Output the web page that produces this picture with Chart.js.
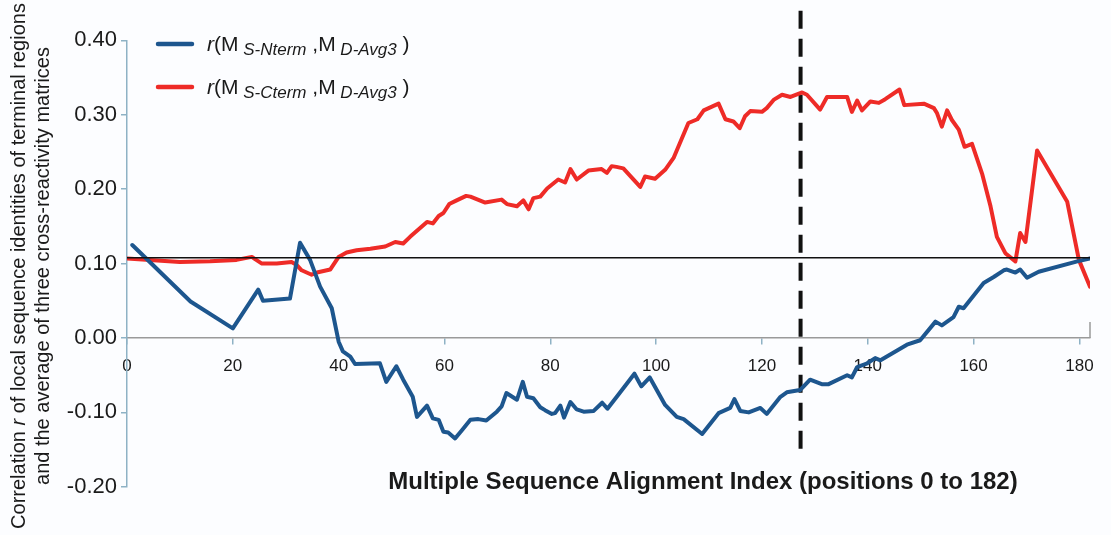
<!DOCTYPE html>
<html>
<head>
<meta charset="utf-8">
<script src="https://cdn.jsdelivr.net/npm/chart.js@4.4.1/dist/chart.umd.min.js"></script>
<style>
  html, body { margin: 0; padding: 0; background: #fcfdff; }
  #wrap { width: 1111px; height: 535px; position: relative; }
</style>
</head>
<body>
<div id="wrap"><canvas id="corrChart"></canvas></div>
<script>
// --- data ---
const POS_NTERM = [1, 12, 20, 24.8, 25.7, 30.8, 32.7, 34.6, 36.5, 38.7, 40, 40.8, 42.2, 43.1, 47.8, 49, 50.9, 52.2, 54, 54.8,
  56.7, 57.8, 58.9, 59.8, 60.7, 62, 63.3, 64.9, 66.4, 67.9, 69.9, 70.8, 71.7, 73.7, 74.8, 75.6, 76.8, 78.1, 79, 80.3,
  80.9, 81.9, 82.6, 83.8, 85, 86.3, 88.2, 89.8, 90.8, 93, 95.9, 97.2, 98.8, 101.7, 103.9, 105.2, 108.7, 111.8, 114, 114.8,
  115.9, 117.5, 119.7, 120.9, 123.5, 124.7, 127.2, 129.1, 131.3, 132.6, 136.1, 137, 138, 139.9, 141.4, 142.4, 147.4, 149.9, 152.8, 154,
  156.2, 157.2, 158.1, 161.9, 163.8, 165.7, 166.3, 167.9, 168.8, 170.1, 172.3, 179.6, 182];
const R_NTERM = [0.125, 0.049, 0.013, 0.065, 0.050, 0.053, 0.128, 0.105, 0.069, 0.040, -0.005, -0.018, -0.025, -0.035, -0.034, -0.059, -0.038, -0.056, -0.079, -0.106,
  -0.091, -0.108, -0.110, -0.126, -0.127, -0.135, -0.124, -0.110, -0.109, -0.111, -0.099, -0.092, -0.074, -0.083, -0.059, -0.079, -0.081, -0.093, -0.097, -0.102,
  -0.101, -0.091, -0.107, -0.086, -0.096, -0.099, -0.098, -0.087, -0.095, -0.075, -0.048, -0.065, -0.053, -0.090, -0.106, -0.109, -0.129, -0.101, -0.094, -0.082,
  -0.098, -0.100, -0.094, -0.102, -0.079, -0.073, -0.070, -0.056, -0.062, -0.062, -0.050, -0.053, -0.039, -0.034, -0.027, -0.030, -0.009, -0.003, 0.022, 0.017,
  0.028, 0.042, 0.040, 0.074, 0.082, 0.091, 0.092, 0.088, 0.092, 0.081, 0.089, 0.103, 0.107];

const POS_CTERM = [0, 4.3, 10, 15.7, 20.7, 23.6, 24.2, 25.5, 28.3, 31.1, 32.1, 33, 34.9, 35.9, 38.4, 40, 41.5, 43.4, 46, 48.8,
  50.7, 52.2, 53.5, 56.7, 57.8, 58.9, 59.8, 60.9, 62.3, 64.1, 64.9, 67.7, 70.8, 71.8, 73.7, 74.9, 75.9, 76.8, 78.1, 79.4,
  81.5, 82.8, 83.8, 85, 87.2, 89.7, 90.7, 91.6, 92.5, 93.8, 97, 97.9, 99.8, 101.7, 103.3, 106.1, 107.8, 109, 111.8, 113.1,
  114.6, 115.8, 116.8, 117.8, 120, 120.9, 122.2, 123.8, 125.4, 127.6, 128.5, 131, 132.3, 136.1, 137, 138, 138.9, 140.5, 142.1, 143.3,
  146, 146.9, 150.6, 152.5, 153.1, 154, 155, 155.9, 157.2, 158.3, 159.7, 161.6, 163.2, 164.4, 166, 167.9, 168.8, 169.8, 172, 177.7,
  179.9, 182];
const R_CTERM = [0.107, 0.105, 0.102, 0.103, 0.105, 0.109, 0.106, 0.100, 0.100, 0.102, 0.098, 0.091, 0.085, 0.088, 0.092, 0.109, 0.115, 0.118, 0.120, 0.123,
  0.129, 0.127, 0.136, 0.156, 0.154, 0.164, 0.168, 0.180, 0.185, 0.191, 0.190, 0.182, 0.186, 0.180, 0.177, 0.185, 0.173, 0.188, 0.190, 0.201,
  0.213, 0.209, 0.227, 0.213, 0.225, 0.227, 0.222, 0.231, 0.230, 0.228, 0.203, 0.217, 0.214, 0.226, 0.242, 0.289, 0.294, 0.306, 0.315, 0.294,
  0.291, 0.282, 0.298, 0.305, 0.304, 0.309, 0.320, 0.327, 0.324, 0.330, 0.327, 0.307, 0.324, 0.324, 0.304, 0.319, 0.306, 0.318, 0.316, 0.321,
  0.334, 0.313, 0.315, 0.309, 0.302, 0.284, 0.306, 0.293, 0.280, 0.257, 0.261, 0.221, 0.177, 0.136, 0.114, 0.103, 0.141, 0.129, 0.252, 0.183,
  0.105, 0.069];

const REF_R = 0.108;          // horizontal reference line
const MARK_POS = 127.3;       // dashed vertical marker
const MARK_SPAN = [0.44, -0.153];

const X_TICKS = [0, 20, 40, 60, 80, 100, 120, 140, 160, 180];
const Y_TICKS = [-0.20, -0.10, 0.00, 0.10, 0.20, 0.30, 0.40];
const X_END = 182;

const BLUE = '#1d568e';
const RED = '#ee2b27';
const AXIS = '#8eb2c5';
const FONT = "'Liberation Sans', Arial, Helvetica, sans-serif";

function toPoints(xs, ys) {
    return xs.map((x, i) => ({ x: x, y: ys[i] }));
}

// draws a list of text runs (different fonts / offsets) one after the other
function drawRuns(ctx, runs, x, y, align) {
    let total = 0;
    runs.forEach(r => { ctx.font = r.font; total += ctx.measureText(r.text).width; });
    let cx = align === 'center' ? x - total / 2 : x;
    runs.forEach(r => {
        ctx.font = r.font;
        ctx.fillText(r.text, cx, y + (r.dy || 0));
        cx += ctx.measureText(r.text).width;
    });
}

const decorPlugin = {
    id: 'decor',
    afterDraw(chart) {
        const ctx = chart.ctx;
        const xs = chart.scales.x, ys = chart.scales.y;
        ctx.save();
        ctx.fillStyle = '#1a1a1a';
        ctx.textBaseline = 'alphabetic';

        // end cap of the x axis
        const ex = xs.getPixelForValue(X_END), ey = ys.getPixelForValue(0);
        ctx.strokeStyle = '#9a9a9a';
        ctx.lineWidth = 1.5;
        ctx.beginPath();
        ctx.moveTo(ex, ey);
        ctx.lineTo(ex, ey - 16);
        ctx.stroke();

        // legend
        const main = `21px ${FONT}`, it = `italic 21px ${FONT}`, sub = `italic 17px ${FONT}`;
        const items = [
            { color: BLUE, y: 44, s: 'S-Nterm' },
            { color: RED, y: 87, s: 'S-Cterm' }
        ];
        items.forEach(item => {
            ctx.strokeStyle = item.color;
            ctx.lineWidth = 4.5;
            ctx.lineCap = 'round';
            ctx.beginPath();
            ctx.moveTo(158, item.y);
            ctx.lineTo(192, item.y);
            ctx.stroke();
            drawRuns(ctx, [
                { text: 'r', font: it },
                { text: '(M', font: main },
                { text: ' ' + item.s, font: sub, dy: 4 },
                { text: ' ,M', font: main },
                { text: ' D-Avg3', font: sub, dy: 4 },
                { text: ' )', font: main }
            ], 207, item.y + 7, 'left');
        });

        // y axis title (two lines, rotated)
        const tf = `20px ${FONT}`, tfi = `italic 20px ${FONT}`;
        ctx.textBaseline = 'middle';
        [[19, [{ text: 'Correlation ', font: tf }, { text: 'r', font: tfi }, { text: ' of local sequence identities of terminal regions', font: tf }]],
         [43, [{ text: 'and the average of three cross-reactivity matrices', font: tf }]]].forEach(([lx, runs]) => {
            ctx.save();
            ctx.translate(lx, 266);
            ctx.rotate(-Math.PI / 2);
            drawRuns(ctx, runs, 0, 0, 'center');
            ctx.restore();
        });

        // x axis title
        ctx.font = `bold 24px ${FONT}`;
        ctx.textAlign = 'center';
        ctx.fillText('Multiple Sequence Alignment Index (positions 0 to 182)', 703, 482);
        ctx.restore();
    }
};

const ctx = document.getElementById('corrChart').getContext('2d');
new Chart(ctx, {
    type: 'line',
    data: {
        datasets: [
            {
                label: 'ref',
                data: [{ x: 0, y: REF_R }, { x: X_END, y: REF_R }],
                borderColor: '#111111',
                borderWidth: 1.5,
                pointRadius: 0
            },
            {
                label: 'r(M S-Nterm, M D-Avg3)',
                data: toPoints(POS_NTERM, R_NTERM),
                borderColor: BLUE,
                borderWidth: 4,
                pointRadius: 0,
                tension: 0,
                borderJoinStyle: 'round',
                borderCapStyle: 'round'
            },
            {
                label: 'r(M S-Cterm, M D-Avg3)',
                data: toPoints(POS_CTERM, R_CTERM),
                borderColor: RED,
                borderWidth: 4,
                pointRadius: 0,
                tension: 0,
                borderJoinStyle: 'round',
                borderCapStyle: 'round'
            },
            {
                label: 'marker',
                data: [{ x: MARK_POS, y: MARK_SPAN[0] }, { x: MARK_POS, y: MARK_SPAN[1] }],
                borderColor: '#111111',
                borderWidth: 4,
                borderDash: [18, 10],
                pointRadius: 0,
                clip: false
            }
        ]
    },
    options: {
        responsive: true,
        maintainAspectRatio: false,
        animation: false,
        devicePixelRatio: 1,
        layout: { padding: { top: 40.4, right: 21, bottom: 48.2, left: 0 } },
        plugins: { legend: { display: false }, tooltip: { enabled: false } },
        scales: {
            x: {
                type: 'linear',
                position: { y: 0 },
                min: 0,
                max: X_END,
                afterBuildTicks: s => { s.ticks = X_TICKS.map(v => ({ value: v })); },
                grid: { display: true, drawOnChartArea: false, drawTicks: true, tickLength: 6, color: AXIS, lineWidth: 1.5 },
                border: { display: true, color: '#9a9a9a', width: 1.5 },
                ticks: { color: '#1a1a1a', font: { family: FONT, size: 17 }, padding: 12, maxRotation: 0 }
            },
            y: {
                type: 'linear',
                position: 'left',
                min: -0.2,
                max: 0.4,
                afterBuildTicks: s => { s.ticks = Y_TICKS.map(v => ({ value: v })); },
                afterFit: s => { s.width = 127; },
                grid: { display: true, drawOnChartArea: false, drawTicks: true, tickLength: 6, color: AXIS, lineWidth: 1.5 },
                border: { display: true, color: AXIS, width: 1.5 },
                ticks: {
                    color: '#1a1a1a',
                    font: { family: FONT, size: 22 },
                    padding: 4,
                    callback: v => (Math.round(v * 100) / 100).toFixed(2)
                }
            }
        }
    },
    plugins: [decorPlugin]
});
</script>
</body>
</html>
